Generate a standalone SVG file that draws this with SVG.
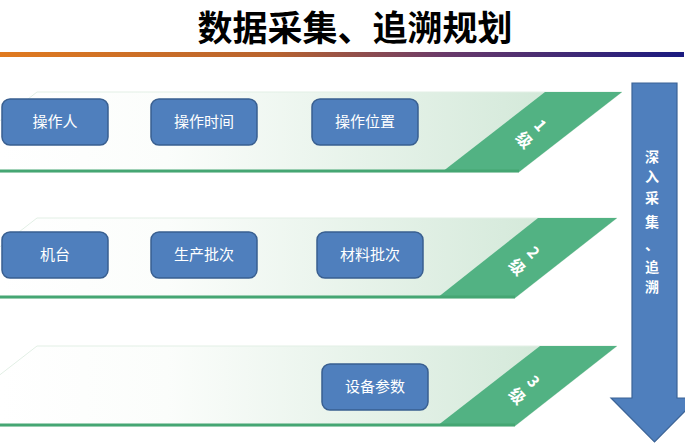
<svg xmlns="http://www.w3.org/2000/svg" width="685" height="443" viewBox="0 0 685 443">
  <defs>
    <linearGradient id="titleLine" x1="0" y1="0" x2="1" y2="0">
      <stop offset="0" stop-color="#e07a1f"/>
      <stop offset="0.4" stop-color="#b8632e"/>
      <stop offset="0.65" stop-color="#6a3a6a"/>
      <stop offset="1" stop-color="#1a1a80"/>
    </linearGradient>
    <linearGradient id="bandFill" gradientUnits="userSpaceOnUse" x1="0" y1="0" x2="560" y2="0">
      <stop offset="0" stop-color="#ffffff"/>
      <stop offset="0.3" stop-color="#fbfdfb"/>
      <stop offset="1" stop-color="#d2e8d8"/>
    </linearGradient>
    <style>
      .band { fill: url(#bandFill); stroke: #e2efe5; stroke-width: 1; }
      .green { fill: #52b283; }
      .edge { stroke: #45a673; stroke-width: 3; fill: none; }
      .box { fill: #4f7fbd; stroke: #395f90; stroke-width: 1.5; }
      .boxText { font-family: "Noto Sans CJK SC", "Noto Sans", sans-serif; font-size: 15px; fill: #ffffff; text-anchor: middle; }
      .lvl { font-family: "Noto Sans CJK SC", "Noto Sans", sans-serif; font-size: 16px; font-weight: bold; fill: #ffffff; text-anchor: middle; }
      .arrowText { font-family: "Noto Sans CJK SC", "Noto Sans", sans-serif; font-size: 14px; font-weight: bold; fill: #ffffff; text-anchor: middle; }
      .title { font-family: "Noto Sans CJK SC", "Noto Sans", sans-serif; font-size: 35px; font-weight: bold; fill: #000000; text-anchor: middle; }
    </style>
  </defs>

  <rect x="0" y="0" width="685" height="443" fill="#ffffff"/>

  <g id="title">
    <text class="title" x="355" y="41">数据采集、追溯规划</text>
    <rect x="0" y="52" width="684" height="5" fill="url(#titleLine)"/>
  </g>

  <g id="band1">
    <polygon class="band" points="37,92 622,92 519,172 -66,172"/>
    <polygon class="green" points="545,92 622,92 519,172 442,172"/>
    <line class="edge" x1="0" y1="171" x2="519" y2="171"/>
    <g transform="translate(531,134) rotate(48)">
      <text class="lvl" x="0" y="-7">1</text>
      <text class="lvl" x="0" y="15">级</text>
    </g>
  </g>

  <g id="band2">
    <polygon class="band" points="37,218 617,218 515,298 -66,298"/>
    <polygon class="green" points="538,218 617,218 515,298 437,298"/>
    <line class="edge" x1="0" y1="297" x2="515" y2="297"/>
    <g transform="translate(524,261) rotate(48)">
      <text class="lvl" x="0" y="-7">2</text>
      <text class="lvl" x="0" y="15">级</text>
    </g>
  </g>

  <g id="band3">
    <polygon class="band" points="37,346 617,346 515,426 -66,426"/>
    <polygon class="green" points="540,346 617,346 515,426 437,426"/>
    <line class="edge" x1="0" y1="425" x2="515" y2="425"/>
    <g transform="translate(524,390) rotate(48)">
      <text class="lvl" x="0" y="-7">3</text>
      <text class="lvl" x="0" y="15">级</text>
    </g>
  </g>

  <g id="node-operator">
    <rect class="box" x="2" y="99" width="106" height="46" rx="8"/>
    <text class="boxText" x="55" y="127">操作人</text>
  </g>
  <g id="node-optime">
    <rect class="box" x="151" y="99" width="106" height="46" rx="8"/>
    <text class="boxText" x="204" y="127">操作时间</text>
  </g>
  <g id="node-oppos">
    <rect class="box" x="312" y="99" width="106" height="46" rx="8"/>
    <text class="boxText" x="365" y="127">操作位置</text>
  </g>

  <g id="node-machine">
    <rect class="box" x="2" y="232" width="106" height="46" rx="8"/>
    <text class="boxText" x="55" y="260">机台</text>
  </g>
  <g id="node-prodbatch">
    <rect class="box" x="151" y="232" width="106" height="46" rx="8"/>
    <text class="boxText" x="204" y="260">生产批次</text>
  </g>
  <g id="node-matbatch">
    <rect class="box" x="317" y="232" width="106" height="46" rx="8"/>
    <text class="boxText" x="370" y="260">材料批次</text>
  </g>

  <g id="node-params">
    <rect class="box" x="322" y="364" width="106" height="46" rx="8"/>
    <text class="boxText" x="375" y="392">设备参数</text>
  </g>

  <g id="connectors">
    <g id="arrow-deepen">
      <polygon points="632,83 677,83 677,398 698,398 654.5,442 611,398 632,398" fill="#4f7fbd" stroke="#3b6396" stroke-width="1.2"/>
      <text class="arrowText" x="652" y="162">深</text>
      <text class="arrowText" x="652" y="182">入</text>
      <text class="arrowText" x="652" y="203">采</text>
      <text class="arrowText" x="652" y="227">集</text>
      <text class="arrowText" x="652" y="250">、</text>
      <text class="arrowText" x="652" y="272">追</text>
      <text class="arrowText" x="652" y="292">溯</text>
    </g>
  </g>
</svg>
